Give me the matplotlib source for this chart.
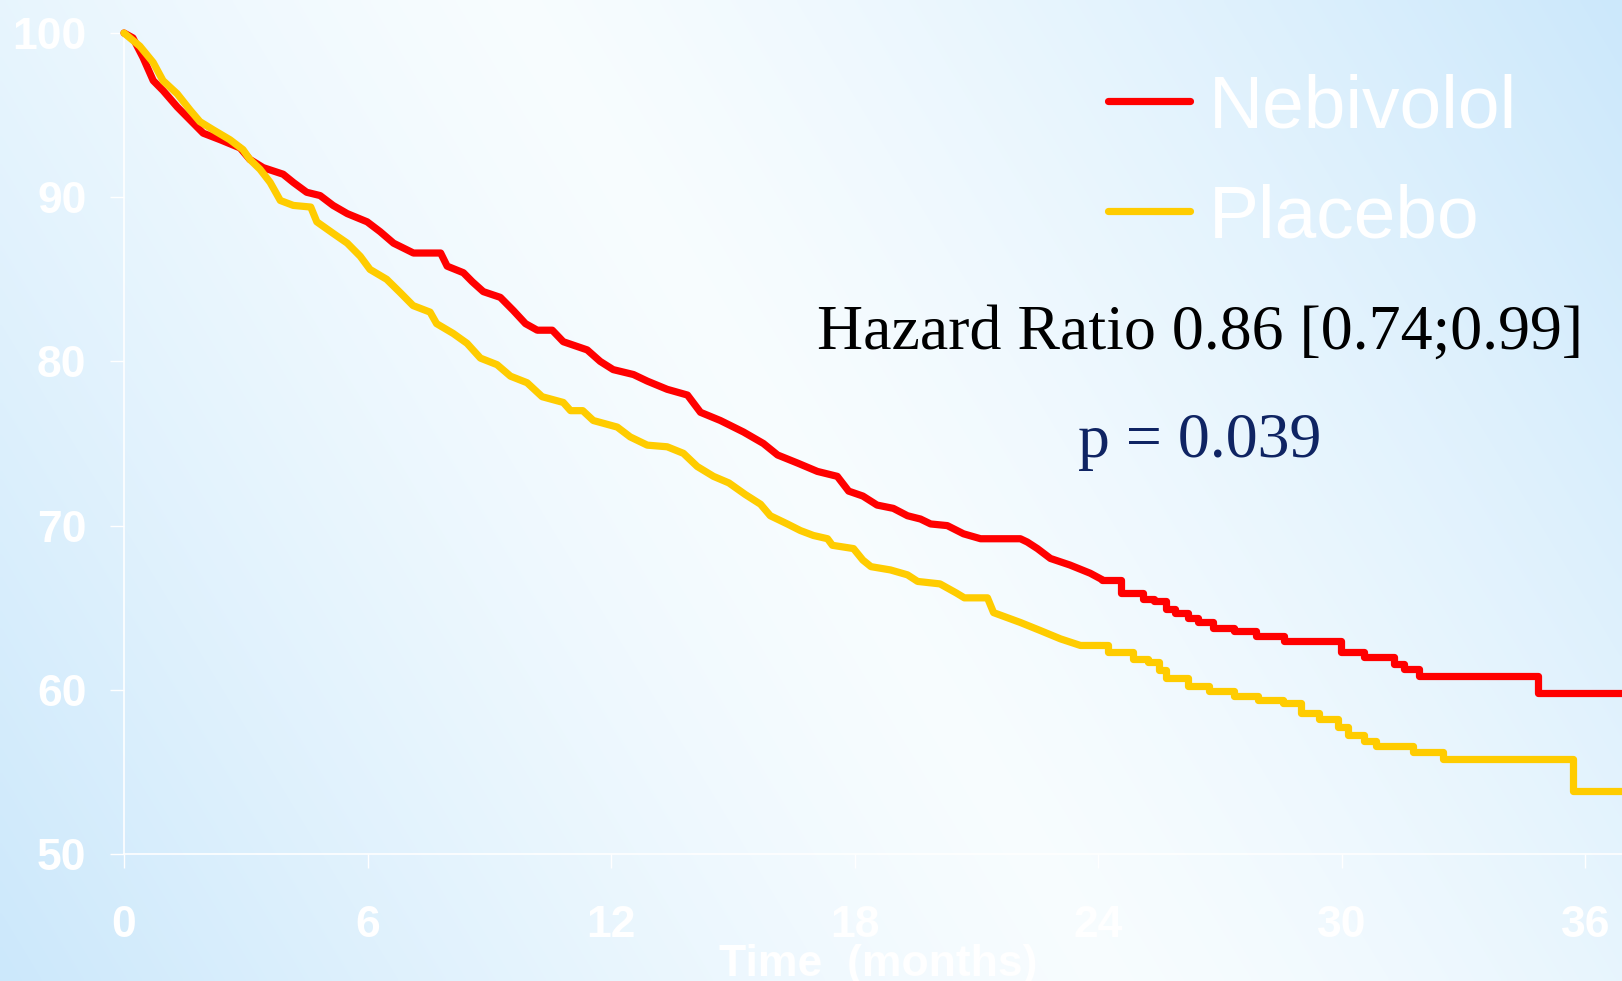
import numpy as np
import matplotlib
matplotlib.use("Agg")
import matplotlib.pyplot as plt

# Kaplan-Meier curves (months, % event-free)
# dense early part: vertices of the curve
neb_t = [0, 0.22, 0.47, 0.72, 0.96, 1.31, 1.63, 1.95, 2.37, 2.86, 3.1, 3.43, 3.92, 4.17,
         4.5, 4.83, 5.15, 5.5, 5.99, 6.31, 6.64, 7.13, 7.8, 7.96, 8.36, 8.58, 8.85, 9.27,
         9.59, 9.89, 10.18, 10.55, 10.82, 11.41, 11.73, 12.05, 12.55, 12.89, 13.38, 13.88,
         14.2, 14.69, 15.26, 15.75, 16.1, 16.6, 17.08, 17.57, 17.85, 18.2, 18.55, 18.95,
         19.3, 19.62, 19.87, 20.28, 20.68, 21.1, 22.08, 22.25, 22.5, 22.82, 23.3, 23.8, 24.1]
neb_v = [100, 99.7, 98.5, 97.1, 96.5, 95.5, 94.7, 93.9, 93.5, 93.0, 92.3, 91.8, 91.4, 90.9,
         90.3, 90.1, 89.5, 89.0, 88.5, 87.9, 87.2, 86.6, 86.6, 85.8, 85.4, 84.85, 84.25, 83.9,
         83.1, 82.3, 81.9, 81.9, 81.2, 80.7, 80.0, 79.5, 79.2, 78.8, 78.3, 77.95,
         76.9, 76.4, 75.7, 75.0, 74.3, 73.8, 73.3, 73.0, 72.1, 71.8, 71.25, 71.05,
         70.6, 70.4, 70.1, 70.0, 69.5, 69.2, 69.2, 69.0, 68.6, 68.0, 67.6, 67.1, 66.7]
# sparse tail: step starts
neb_tail_t = [24.1, 24.55, 25.09, 25.36, 25.66, 25.9, 26.2, 26.45, 26.82, 27.34, 27.88,
              28.57, 29.97, 30.54, 31.28, 31.53, 31.9, 34.83, 36.92]
neb_tail_v = [66.7, 65.9, 65.5, 65.4, 64.9, 64.7, 64.4, 64.1, 63.75, 63.6, 63.3,
              63.0, 62.3, 62.0, 61.6, 61.25, 60.85, 59.8, 59.8]

pla_t = [0, 0.39, 0.72, 0.96, 1.31, 1.63, 1.87, 2.2, 2.61, 2.93, 3.1, 3.35, 3.6, 3.85,
         4.17, 4.6, 4.75, 5.15, 5.5, 5.82, 6.06, 6.47, 6.8, 7.12, 7.54, 7.7, 8.11, 8.45,
         8.78, 9.19, 9.52, 9.93, 10.3, 10.82, 11.0, 11.3, 11.56, 12.15, 12.47, 12.89, 13.38,
         13.78, 14.12, 14.52, 14.9, 15.3, 15.68, 15.92, 16.34, 16.66, 16.98, 17.33, 17.45,
         17.97, 18.2, 18.4, 18.88, 19.3, 19.55, 20.1, 20.5, 20.7, 21.27, 21.42, 22.08, 22.58,
         23.07, 23.56, 24.06]
pla_v = [100, 99.2, 98.2, 97.1, 96.3, 95.3, 94.6, 94.1, 93.5, 92.9, 92.3, 91.7, 90.9, 89.8,
         89.5, 89.4, 88.5, 87.8, 87.2, 86.4, 85.6, 85.0, 84.2, 83.4, 83.0, 82.3, 81.7, 81.1,
         80.2, 79.8, 79.1, 78.7, 77.85, 77.5, 77.0, 77.0, 76.4, 76.0, 75.4, 74.9, 74.8,
         74.4, 73.6, 73.0, 72.6, 71.9, 71.3, 70.6, 70.1, 69.7, 69.4, 69.2, 68.8,
         68.6, 67.9, 67.5, 67.3, 67.0, 66.6, 66.45, 65.9, 65.6, 65.6, 64.7, 64.1, 63.6,
         63.1, 62.7, 62.7]
pla_tail_t = [24.06, 24.23, 24.85, 25.22, 25.49, 25.66, 26.2, 26.72, 27.34, 27.93, 28.54,
              28.99, 29.43, 29.9, 30.15, 30.54, 30.84, 31.75, 32.49, 35.69, 36.92]
pla_tail_v = [62.7, 62.3, 61.9, 61.7, 61.2, 60.7, 60.25, 59.9, 59.6, 59.4, 59.2,
              58.6, 58.25, 57.75, 57.25, 56.9, 56.6, 56.2, 55.8, 53.85, 53.85]

x_ticks = [0, 6, 12, 18, 24, 30, 36]
y_ticks = [50, 60, 70, 80, 90, 100]
labels = ["Nebivolol", "Placebo"]
colors = ["#ff0000", "#ffcc00"]

W, H = 1622, 981
fig = plt.figure(figsize=(W / 100, H / 100), dpi=100)

# diagonal light-blue / white background (white band across the middle)
bg = fig.add_axes([0, 0, 1, 1], zorder=-10)
xx, yy = np.meshgrid(np.linspace(0, 1, 400), np.linspace(1, 0, 250))
a, b = W ** 2, H ** 2
d = np.abs(((xx - 0.5) * a + (yy - 0.5) * b) / (0.5 * a + 0.5 * b)) ** 1.3
white = np.array([0.97, 0.99, 1.0])
blue = np.array([0.80, 0.91, 0.985])
img = white + (blue - white) * d[..., None]
bg.imshow(img, aspect="auto", extent=[0, 1, 0, 1], interpolation="bilinear")
bg.axis("off")

ax = fig.add_axes([124 / W, 1 - 854 / H, 1 - 124 / W, (854 - 33) / H])
ax.patch.set_alpha(0)

style = dict(lw=5.2, solid_joinstyle="round", solid_capstyle="round", clip_on=False)
l1, = ax.plot(neb_t, neb_v, color=colors[0], zorder=3, **style)
ax.plot(neb_tail_t, neb_tail_v, drawstyle="steps-post", color=colors[0], zorder=3, **style)
l2, = ax.plot(pla_t, pla_v, color=colors[1], zorder=4, **style)
ax.plot(pla_tail_t, pla_tail_v, drawstyle="steps-post", color=colors[1], zorder=4, **style)

ax.set_xlim(0, 36.9)
ax.set_ylim(50, 100)
ax.set_xticks(x_ticks)
ax.set_yticks(y_ticks)
for s in ["top", "right"]:
    ax.spines[s].set_visible(False)
for s in ["left", "bottom"]:
    ax.spines[s].set_color("white")
    ax.spines[s].set_linewidth(1.2)
ax.tick_params(axis="both", colors="white", direction="out", length=10, width=1.0)
ax.tick_params(axis="y", pad=17)
ax.tick_params(axis="x", pad=27)
for lab in ax.get_xticklabels() + ax.get_yticklabels():
    lab.set_fontfamily("Liberation Sans")
    lab.set_fontweight("bold")
    lab.set_fontsize(32)
    lab.set_color("white")

fig.text(878 / W, 1 - 976 / H, "Time  (months)", ha="center", va="baseline",
         family="Liberation Sans", weight="bold", size=32, color="white")

leg = ax.legend([l1, l2], labels, loc="upper left", bbox_to_anchor=(1108 / W, 1 - 73 / H),
                bbox_transform=fig.transFigure, frameon=False,
                prop={"family": "Liberation Sans", "size": 54},
                handlelength=1.09, handletextpad=0.25, labelspacing=0.55,
                borderpad=0, borderaxespad=0, labelcolor="white")
for h in leg.get_lines():
    h.set_linewidth(5.2)
    h.set_solid_capstyle("round")

fig.text(1200 / W, 1 - 349 / H, "Hazard Ratio 0.86 [0.74;0.99]", ha="center", va="baseline",
         family="Liberation Serif", size=46, color="black")
fig.text(1200 / W, 1 - 457 / H, "p = 0.039", ha="center", va="baseline",
         family="Liberation Serif", size=46, color="#0f2463")

fig.savefig("out.png", dpi=100)
